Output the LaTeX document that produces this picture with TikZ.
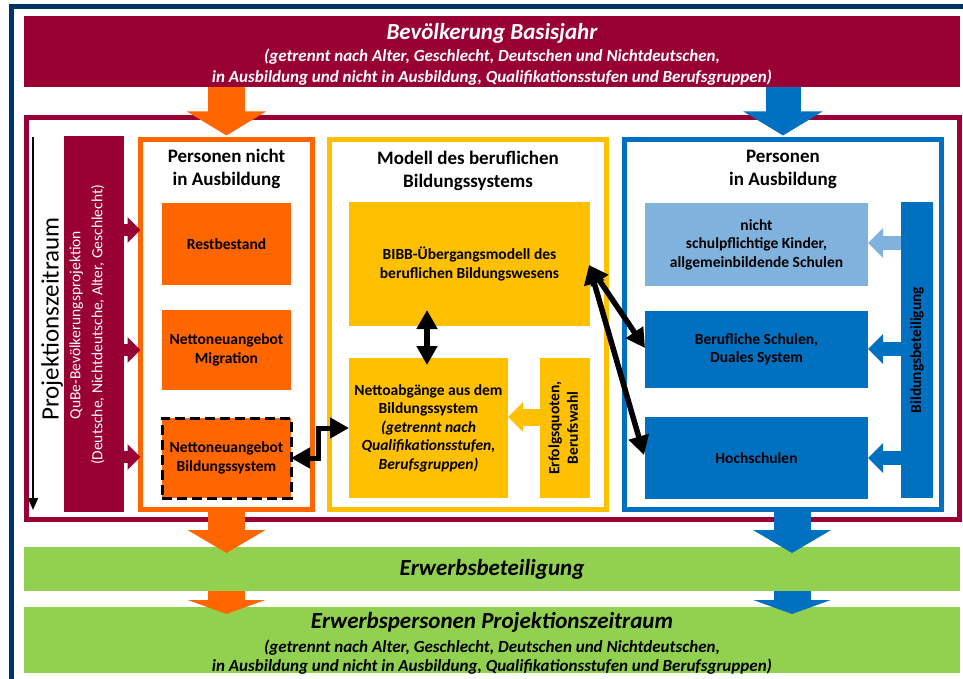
\documentclass[tikz,border=0pt]{standalone}
\usepackage{fontspec}
\setmainfont{Carlito}
\usetikzlibrary{arrows.meta,calc}
\definecolor{cMaroon}{HTML}{990033}
\definecolor{cNavy}{HTML}{003366}
\definecolor{cOrange}{HTML}{FF6600}
\definecolor{cYellow}{HTML}{FFC000}
\definecolor{cBlue}{HTML}{0070C0}
\definecolor{cLight}{HTML}{7FB3DD}
\definecolor{cGreen}{HTML}{92D050}
\newcommand\fntInner{\fontsize{15.5}{18.5}\selectfont\bfseries}
\newcommand\fntHead{\fontsize{19}{23}\selectfont\bfseries}
\newcommand\fntBig{\fontsize{23}{24}\selectfont\bfseries\itshape}
\newcommand\fntSub{\fontsize{17}{21}\selectfont\bfseries\itshape}
\newcommand\fntSubB{\fontsize{17}{18.5}\selectfont\bfseries\itshape}
\begin{document}
\begin{tikzpicture}[x=1pt,y=-1pt,
  every node/.style={inner sep=0pt,outer sep=0pt},
  fbox/.style={rectangle,align=center,font=\fntInner},
  panel/.style={draw=#1,line width=5pt,minimum height=370pt},
  dbl/.style={line width=5.5pt,{Triangle[length=19pt,width=20pt]}-{Triangle[length=19pt,width=20pt]}}]
\fill[white] (0,0) rectangle (963,679);
\useasboundingbox (0,0) rectangle (963,679);
% navy outer frame
\fill[cNavy] (9,4) rectangle (963,9);
\fill[cNavy] (9,4) rectangle (14,679);
% top box
\node[fill=cMaroon,minimum width=936pt,minimum height=71pt] (top) at (492,51.5) {};
\node[text=white,font=\fntBig] (topT) at (492,33) {Bevölkerung Basisjahr};
\node[text=white,font=\fntSub,align=center] (topS) at (492,67.5) {(getrennt nach Alter, Geschlecht, Deutschen und Nichtdeutschen,\\in Ausbildung und nicht in Ausbildung, Qualifikationsstufen und Berufsgruppen)};
% maroon frame
\node[draw=cMaroon,line width=5pt,minimum width=932.5pt,minimum height=401.5pt] (frame) at (492.75,318.25) {};
% panels
\node[panel=cOrange,minimum width=172pt] (obox) at (226.5,324.5) {};
\node[panel=cYellow,minimum width=277pt] (ybox) at (468,324.5) {};
\node[panel=cBlue,minimum width=317pt] (bbox) at (783,324.5) {};
% projection time axis
\coordinate (pzA) at (33,137);
\coordinate (pzB) at (33,510);
\draw[line width=2pt,-{Triangle[length=12pt,width=10pt]}] (pzA) -- (pzB);
\node[rotate=90,font=\fontsize{25}{25}\selectfont] (pz) at (52,319) {Projektionszeitraum};
% QuBe bar
\node[fill=cMaroon,minimum width=60pt,minimum height=376pt] (qube) at (94,324) {};
\node[rotate=90,text=white,align=center,font=\fontsize{15.5}{22}\selectfont] (qubeT) at (87,325)
  {QuBe-Bevölkerungsprojektion\\(Deutsche, Nichtdeutsche, Alter, Geschlecht)};
% panel titles
\node[font=\fntHead,align=center] (oT) at (226.5,169) {Personen nicht\\in Ausbildung};
\node[font=\fntHead,align=center] (yT) at (468,171) {Modell des beruflichen\\Bildungssystems};
\node[font=\fntHead,align=center] (bT) at (783,169) {Personen\\in Ausbildung};
% orange inner
\node[fbox,fill=cOrange,minimum width=129pt,minimum height=82pt] (rest) at (226.5,244) {Restbestand};
\node[fbox,fill=cOrange,minimum width=129pt,minimum height=80pt] (migr) at (226.5,350) {Nettoneuangebot\\Migration};
\node[fbox,fill=cOrange,minimum width=129pt,minimum height=80pt,draw=black,line width=3pt,dash pattern=on 10pt off 5pt] (bild) at (226.5,458) {Nettoneuangebot\\Bildungssystem};
% yellow inner
\node[fbox,fill=cYellow,minimum width=241pt,minimum height=124pt] (bibb) at (469.5,264) {BIBB-Übergangsmodell des\\beruflichen Bildungswesens};
\node[fbox,fill=cYellow,minimum width=159pt,minimum height=140pt] (netto) at (428.5,428) {Nettoabgänge aus dem\\Bildungssystem\\\textit{(getrennt nach}\\\textit{Qualifikationsstufen,}\\\textit{Berufsgruppen)}};
\node[fill=cYellow,minimum width=50pt,minimum height=140pt,font=\fntInner] (erfolg) at (565,428)
  {\rotatebox{90}{\begin{tabular}{@{}c@{}}Erfolgsquoten,\\Berufswahl\end{tabular}}};
% blue inner
\node[fbox,fill=cLight,minimum width=223pt,minimum height=83pt] (nicht) at (756.5,244.5) {nicht\\schulpflichtige Kinder,\\allgemeinbildende Schulen};
\node[fbox,fill=cBlue,minimum width=223pt,minimum height=77pt] (beruf) at (756.5,349.5) {Berufliche Schulen,\\Duales System};
\node[fbox,fill=cBlue,minimum width=223pt,minimum height=82pt] (hoch) at (756.5,458) {Hochschulen};
\node[fill=cBlue,minimum width=32pt,minimum height=296pt,font=\fntInner] (bb) at (917,350) {\rotatebox{90}{Bildungsbeteiligung}};
% green bars
\node[fill=cGreen,minimum width=936pt,minimum height=44pt,font=\fntBig] (g1) at (492,569) {Erwerbsbeteiligung};
\node[fill=cGreen,minimum width=936pt,minimum height=66pt] (g2) at (492,640) {};
\node[font=\fntBig] (g2T) at (492,622) {Erwerbspersonen Projektionszeitraum};
\node[font=\fntSubB,align=center] (g2S) at (492,657) {(getrennt nach Alter, Geschlecht, Deutschen und Nichtdeutschen,\\in Ausbildung und nicht in Ausbildung, Qualifikationsstufen und Berufsgruppen)};
% big block arrows
\draw[cOrange,line width=37pt,-{Triangle[length=24pt,width=78pt]}] (obox.north |- top.south) -- ($(obox.north)+(0,-4)$);
\draw[cBlue,line width=35pt,-{Triangle[length=24pt,width=78pt]}] (bbox.north |- top.south) -- ($(bbox.north)+(0,-4)$);
\draw[cOrange,line width=37pt,-{Triangle[length=23pt,width=77pt]}] (obox.south) -- ($(obox.south |- g1.north)+(0,6)$);
\draw[cBlue,line width=37pt,-{Triangle[length=23pt,width=77pt]}] ($(bbox.south)+(9,0)$) -- ($(bbox.south |- g1.north)+(9,6)$);
\draw[cOrange,line width=37pt,-{Triangle[length=14pt,width=77pt]}] (obox.south |- g1.south) -- ($(obox.south |- g2.north)+(0,7)$);
\draw[cBlue,line width=37pt,-{Triangle[length=14pt,width=77pt]}] ($(bbox.south |- g1.south)+(9,0)$) -- ($(bbox.south |- g2.north)+(9,7)$);
% small arrows
\foreach \yy in {230,350,457}{
  \draw[cMaroon,line width=12pt,-{Triangle[length=13pt,width=25pt]}] (qube.east |- 0,\yy) -- (obox.west |- 0,\yy);}
\draw[cLight,line width=14pt,-{Triangle[length=15pt,width=29pt]}] (bb.west |- 0,243) -- (nicht.east |- 0,243);
\draw[cBlue,line width=14pt,-{Triangle[length=15pt,width=29pt]}] (bb.west |- 0,349) -- (beruf.east |- 0,349);
\draw[cBlue,line width=14pt,-{Triangle[length=15pt,width=29pt]}] (bb.west |- 0,458) -- (hoch.east |- 0,458);
\draw[cYellow,line width=17pt,-{Triangle[length=15pt,width=29pt]}] (erfolg.west |- 0,417) -- (netto.east |- 0,417);
% black double arrows
\draw[dbl] ($(netto.north)+(-1.5,7)$) -- ($(netto.north |- bibb.south)+(-1.5,-16)$);
\draw[dbl] ($(bibb.east)+(-1,1)$) -- ($(beruf.west)+(0,-1.5)$);
\draw[dbl] ($(bibb.east)+(-1,1)$) -- ($(hoch.west)+(-1,-3)$);
\draw[dbl,line width=5pt] (bild.east) -- ++(27,0) |- (netto.west);
\end{tikzpicture}
\end{document}
